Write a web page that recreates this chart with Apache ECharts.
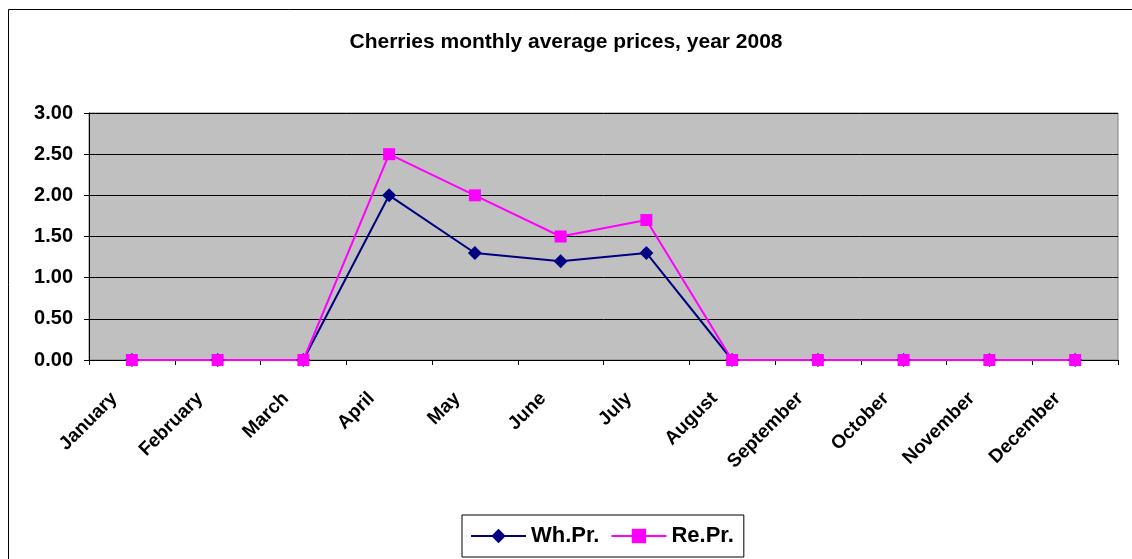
<!DOCTYPE html>
<html><head><meta charset="utf-8">
<script src="https://cdn.jsdelivr.net/npm/echarts@6/dist/echarts.min.js"></script>
<style>html,body{margin:0;padding:0;background:#fff}#c{width:1132px;height:559px}</style>
</head><body><div id="c"></div>
<script>
const months = ['January','February','March','April','May','June','July','August','September','October','November','December'];
const whPr = [0,0,0,2.0,1.3,1.2,1.3,0,0,0,0,0];
const rePr = [0,0,0,2.5,2.0,1.5,1.7,0,0,0,0,0];
const seriesNames = ['Wh.Pr.','Re.Pr.'];

const chart = echarts.init(document.getElementById('c'));
const F = 'Arial, "Liberation Sans", sans-serif';
chart.setOption({
  animation:false,
  backgroundColor:'#fff',
  graphic:[{type:'rect',shape:{x:8.5,y:9.5,width:1140,height:560},style:{fill:'none',stroke:'#000',lineWidth:1},z:-1}],
  title:{text:'Cherries monthly average prices, year 2008',left:'center',top:27,
    textStyle:{fontFamily:F,fontSize:21,fontWeight:'bold',color:'#000'}},
  legend:{bottom:2,left:462,itemGap:11,padding:[10,10,10,8],borderColor:'#000',borderWidth:1,
    itemWidth:55,itemHeight:18,
    textStyle:{fontFamily:F,fontSize:22,fontWeight:'bold',color:'#000'},
    data:seriesNames},
  grid:{left:89,top:113,right:14,bottom:199,show:true,backgroundColor:'#C0C0C0',borderColor:'#808080',borderWidth:1},
  xAxis:{type:'category',data:months,boundaryGap:true,
    axisLine:{lineStyle:{color:'#000',width:1}},
    axisTick:{show:true,alignWithLabel:false,inside:false,length:5,lineStyle:{color:'#000'}},
    axisLabel:{rotate:45,interval:0,margin:18,padding:[0,25,0,0],fontFamily:F,fontSize:19,fontWeight:'bold',color:'#000'}},
  yAxis:{type:'value',min:0,max:3,interval:0.5,
    axisLine:{show:true,lineStyle:{color:'#000'}},
    axisTick:{show:true,length:5,lineStyle:{color:'#000'}},
    splitLine:{show:true,lineStyle:{color:'#000',width:1}},
    axisLabel:{formatter:v=>v.toFixed(2),margin:16,fontFamily:F,fontSize:20,fontWeight:'bold',color:'#000'}},
  series:[
    {name:seriesNames[0],type:'line',data:whPr,symbol:'diamond',symbolSize:14,
     itemStyle:{color:'#000080'},lineStyle:{color:'#000080',width:2}},
    {name:seriesNames[1],type:'line',data:rePr,symbol:'rect',symbolSize:12,
     itemStyle:{color:'#FF00FF'},lineStyle:{color:'#FF00FF',width:2}}
  ]
});
</script></body></html>
